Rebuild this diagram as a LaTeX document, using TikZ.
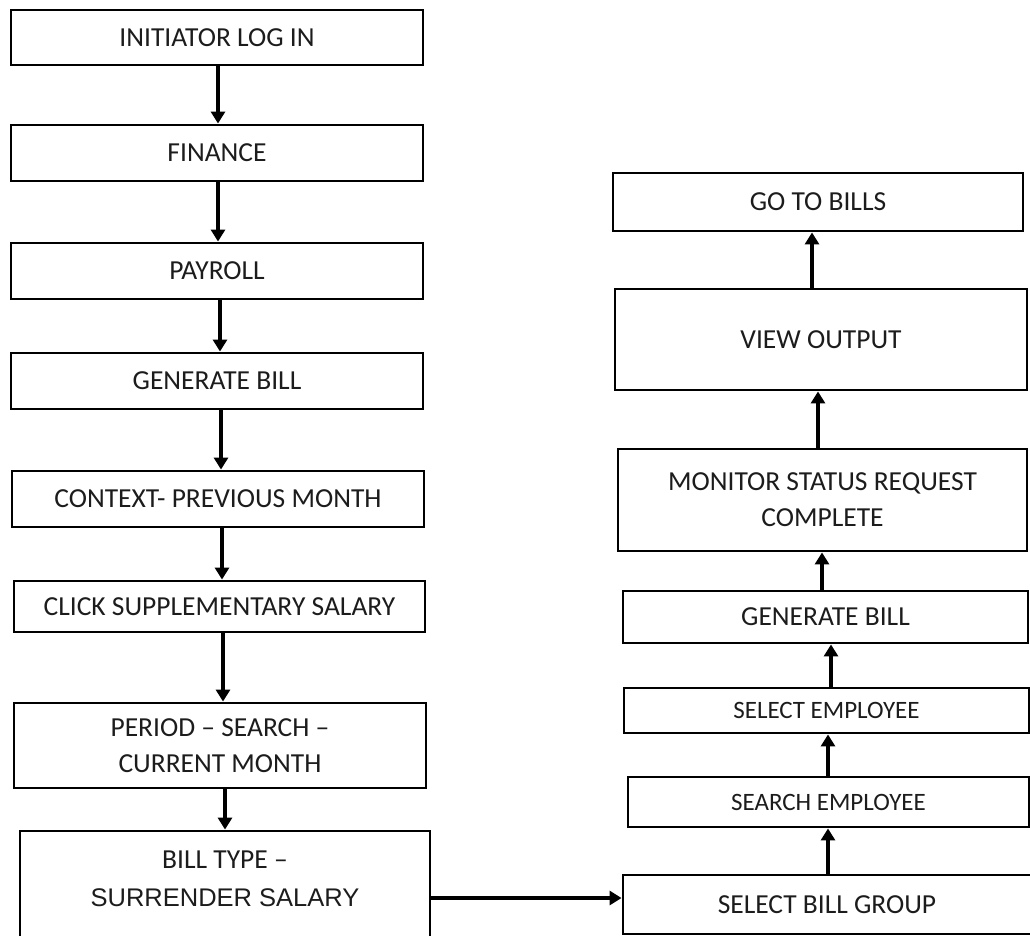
\documentclass[tikz,border=0pt]{standalone}
\usepackage{fontspec}
\setmainfont{Carlito}
\newfontfamily\arialfont{Liberation Sans}
\usetikzlibrary{arrows.meta}
\definecolor{ink}{HTML}{1C1C1C}
\tikzset{
  stepbox/.style={draw=black, line width=2.9pt, inner sep=0pt, align=center,
    text=ink, font=\fontsize{27.5}{36}\selectfont},
  smallbox/.style={stepbox, font=\fontsize{25}{34}\selectfont},
  txt/.style={inner sep=0pt, align=center, text=ink},
  arr/.style={draw=black, line width=3.2pt, -{Triangle[length=12pt,width=14pt]}}
}
\begin{document}
\begin{tikzpicture}[x=1pt,y=-1pt]
\useasboundingbox (0,0) rectangle (1030,936);
\clip (0,0) rectangle (1030,936);

% left column, top to bottom
\node[stepbox, minimum width=412, minimum height=55] (A) at (217,37.5) {INITIATOR LOG IN};
\node[stepbox, minimum width=412, minimum height=56] (B) at (217,153) {FINANCE};
\node[stepbox, minimum width=412, minimum height=56] (C) at (217,271) {PAYROLL};
\node[stepbox, minimum width=412, minimum height=56] (D) at (217,381) {GENERATE BILL};
\node[stepbox, minimum width=412, minimum height=56] (E) at (218,499) {CONTEXT- PREVIOUS MONTH};
\node[stepbox, minimum width=411, minimum height=51] (F) at (219.5,606.5) {CLICK SUPPLEMENTARY SALARY};
\node[stepbox, minimum width=412, minimum height=85] (G) at (220,745.5) {PERIOD -- SEARCH --\\CURRENT MONTH};
\node[stepbox, minimum width=410, minimum height=120] (H) at (225,891) {};
\node[txt, font=\fontsize{27.5}{36}\selectfont] (Ht1) at (225,860) {BILL TYPE --};
\node[txt, font=\arialfont\fontsize{25.5}{30}\selectfont] (Ht2) at (225,898) {SURRENDER SALARY};

% right column, top to bottom
\node[stepbox, minimum width=410, minimum height=58] (R1) at (818,202) {GO TO BILLS};
\node[stepbox, minimum width=412, minimum height=101] (R2) at (821,339.5) {VIEW OUTPUT};
\node[stepbox, minimum width=409, minimum height=102] (R3) at (822.5,500) {MONITOR STATUS REQUEST\\COMPLETE};
\node[stepbox, minimum width=405, minimum height=52] (R4) at (825.5,617) {GENERATE BILL};
\node[smallbox, minimum width=405, minimum height=45] (R5) at (826.5,710.5) {SELECT EMPLOYEE};
\node[smallbox, minimum width=401, minimum height=50] (R6) at (828.5,802) {SEARCH EMPLOYEE};
\node[stepbox, minimum width=408, minimum height=59] (R7) at (827,904.5) {SELECT BILL GROUP};

% downward flow on the left
\draw[arr] ([xshift=1pt]A.south) -- ([xshift=1pt]B.north);
\draw[arr] ([xshift=1pt]B.south) -- ([xshift=1pt]C.north);
\draw[arr] ([xshift=3pt]C.south) -- ([xshift=3pt]D.north);
\draw[arr] ([xshift=4pt]D.south) -- ([xshift=3pt]E.north);
\draw[arr] ([xshift=4pt]E.south) -- ([xshift=2.5pt]F.north);
\draw[arr] ([xshift=3.5pt]F.south) -- ([xshift=3pt]G.north);
\draw[arr] ([xshift=5pt]G.south) -- (H.north);

% across to the right column
\coordinate (hs) at ([yshift=-7pt]H.east);
\draw[arr] (hs) -- (hs -| R7.west);

% upward flow on the right
\draw[arr] ([xshift=1pt]R7.north) -- ([xshift=-0.5pt]R6.south);
\draw[arr] ([xshift=-0.5pt]R6.north) -- ([xshift=1.5pt]R5.south);
\draw[arr] ([xshift=4.5pt]R5.north) -- ([xshift=5.5pt]R4.south);
\draw[arr] ([xshift=-3.5pt]R4.north) -- ([xshift=-0.5pt]R3.south);
\draw[arr] ([xshift=-4.5pt]R3.north) -- ([xshift=-3pt]R2.south);
\draw[arr] ([xshift=-9pt]R2.north) -- ([xshift=-6pt]R1.south);
\end{tikzpicture}
\end{document}
